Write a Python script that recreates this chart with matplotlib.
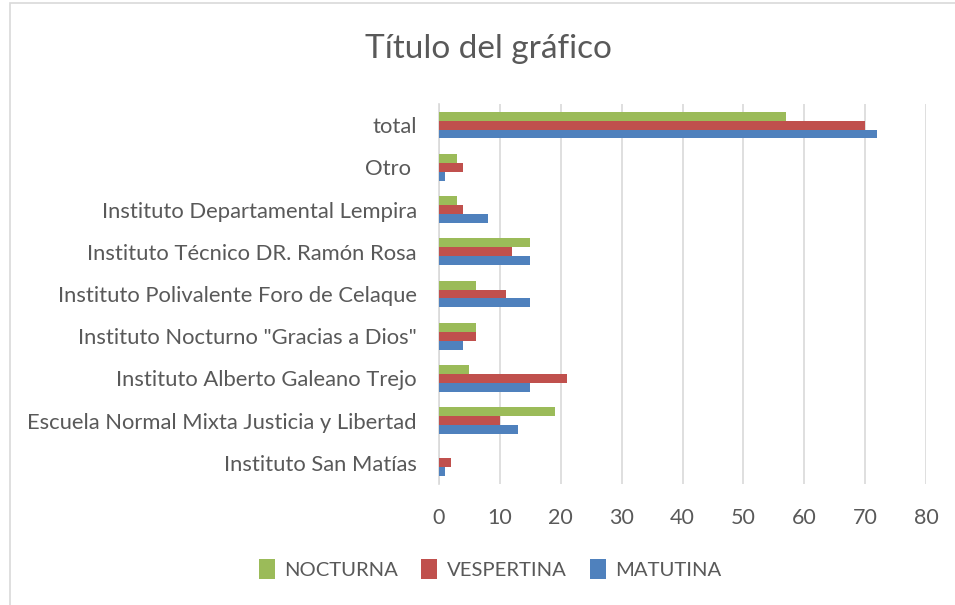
import matplotlib
matplotlib.use("Agg")
import matplotlib.pyplot as plt
import numpy as np
from matplotlib.patches import Rectangle

categories = ["Instituto San Matías", "Escuela Normal Mixta Justicia y Libertad",
              "Instituto Alberto Galeano Trejo", "Instituto Nocturno \"Gracias a Dios\"",
              "Instituto Polivalente Foro de Celaque", "Instituto Técnico DR. Ramón Rosa",
              "Instituto Departamental Lempira", "Otro ", "total"]
matutina = [1, 13, 15, 4, 15, 15, 8, 1, 72]
vespertina = [2, 10, 21, 6, 11, 12, 4, 4, 70]
nocturna = [0, 19, 5, 6, 6, 15, 3, 3, 57]
xticks = [0, 10, 20, 30, 40, 50, 60, 70, 80]

FONT = ["Lato", "DejaVu Sans"]
plt.rcParams['font.family'] = FONT
TXT = "#595959"

fig = plt.figure(figsize=(9.55, 6.05), dpi=100)
fig.patches.append(Rectangle((10/955, -0.01), 1.0, 1 - 3/605 + 0.01, transform=fig.transFigure,
                             fill=False, edgecolor="#D9D9D9", linewidth=1.2))
ax = fig.add_axes([439/955, 1 - 484/605, (926 - 439)/955, (484 - 104)/605])

y = np.arange(len(categories))
h = 0.21
ax.barh(y - h, matutina, height=h, color="#4F81BD", label="MATUTINA", zorder=3)
ax.barh(y, vespertina, height=h, color="#C0504D", label="VESPERTINA", zorder=3)
ax.barh(y + h, nocturna, height=h, color="#9BBB59", label="NOCTURNA", zorder=3)

ax.set_ylim(-0.5, len(categories) - 0.5)
ax.set_xlim(0, 80)
ax.set_xticks(xticks)
ax.set_xticklabels([str(v) for v in xticks], fontsize=15.5, color=TXT)
ax.set_yticks(y)
ax.set_yticklabels(categories, fontsize=15.8, color=TXT)
ax.tick_params(axis='both', length=0)
ax.tick_params(axis='x', pad=17)
ax.tick_params(axis='y', pad=16)
ax.grid(axis='x', color="#D9D9D9", linewidth=1.2, zorder=0)
for s in ["top", "right", "bottom"]:
    ax.spines[s].set_visible(False)
ax.spines["left"].set_color("#D9D9D9")
ax.spines["left"].set_linewidth(1.2)

fig.text(488/955, 1 - 49/605, "Título del gráfico", ha="center", va="center",
         fontsize=24, color=TXT)

handles, labels = ax.get_legend_handles_labels()
order = [2, 1, 0]
fig.legend([handles[i] for i in order], [labels[i] for i in order],
           loc="center", bbox_to_anchor=(490/955, 1 - 569/605), ncol=3, frameon=False,
           fontsize=14.6, labelcolor=TXT, handlelength=0.8, handleheight=1.1,
           handletextpad=0.45, columnspacing=1.15)

fig.savefig("out.png", dpi=100)
